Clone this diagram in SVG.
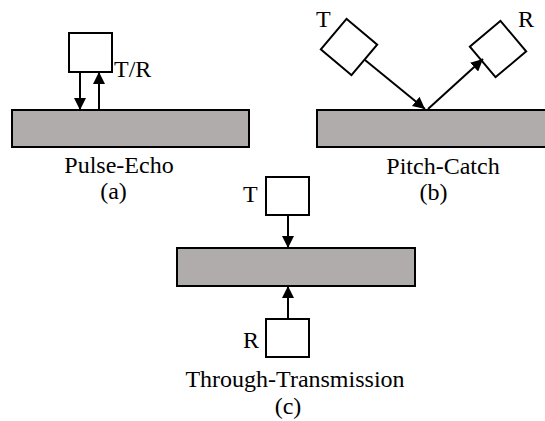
<svg xmlns="http://www.w3.org/2000/svg" width="545" height="421" viewBox="0 0 545 421">
  <style>
    .slab { fill: #b0acab; stroke: #000; stroke-width: 2; }
    .probe { fill: #fff; stroke: #000; stroke-width: 2; }
    .beam { stroke: #000; stroke-width: 2; fill: none; marker-end: url(#head); }
    text { font-family: "Liberation Serif", "Times New Roman", serif; font-size: 24px; fill: #000; }
    .mid { text-anchor: middle; }
  </style>
  <defs>
    <marker id="head" markerUnits="userSpaceOnUse" markerWidth="14" markerHeight="12" refX="12" refY="6" orient="auto">
      <path d="M0,0 L12,6 L0,12 Z" fill="#000"/>
    </marker>
  </defs>

  <rect width="545" height="421" fill="#fff"/>

  <!-- (a) pulse-echo -->
  <g id="slab-a">
    <rect class="slab" x="12" y="110" width="237" height="37"/>
    <text class="mid" x="119" y="173">Pulse-Echo</text>
    <text class="mid" x="113.5" y="199">(a)</text>
  </g>
  <g id="probe-a">
    <rect class="probe" x="69" y="33" width="43" height="39"/>
    <text x="114" y="77">T/R</text>
  </g>

  <!-- (b) pitch-catch -->
  <g id="slab-b">
    <rect class="slab" x="317" y="110" width="240" height="37"/>
    <text class="mid" x="443" y="174">Pitch-Catch</text>
    <text class="mid" x="433.5" y="200">(b)</text>
  </g>
  <g id="probe-b-t">
    <rect class="probe" x="-20" y="-20" width="40" height="40" transform="translate(349,47) rotate(40)"/>
    <text x="316" y="27">T</text>
  </g>
  <g id="probe-b-r">
    <rect class="probe" x="-20" y="-20" width="40" height="40" transform="translate(498,49) rotate(-40)"/>
    <text x="518" y="27">R</text>
  </g>

  <!-- (c) through-transmission -->
  <g id="slab-c">
    <rect class="slab" x="177" y="248" width="238" height="38"/>
    <text class="mid" x="295" y="387">Through-Transmission</text>
    <text class="mid" x="288" y="414">(c)</text>
  </g>
  <g id="probe-c-t">
    <rect class="probe" x="266" y="177" width="43" height="38"/>
    <text x="243" y="202">T</text>
  </g>
  <g id="probe-c-r">
    <rect class="probe" x="266" y="319" width="43" height="38"/>
    <text x="243" y="348">R</text>
  </g>

  <g id="connectors">
    <line class="beam" x1="80" y1="72" x2="80" y2="110"/>
    <line class="beam" x1="99" y1="110" x2="99" y2="72"/>
    <line class="beam" x1="365" y1="60" x2="425" y2="109"/>
    <line class="beam" x1="428" y1="109" x2="483" y2="59"/>
    <line class="beam" x1="288" y1="215" x2="288" y2="248"/>
    <line class="beam" x1="288" y1="319" x2="288" y2="286"/>
  </g>
</svg>
